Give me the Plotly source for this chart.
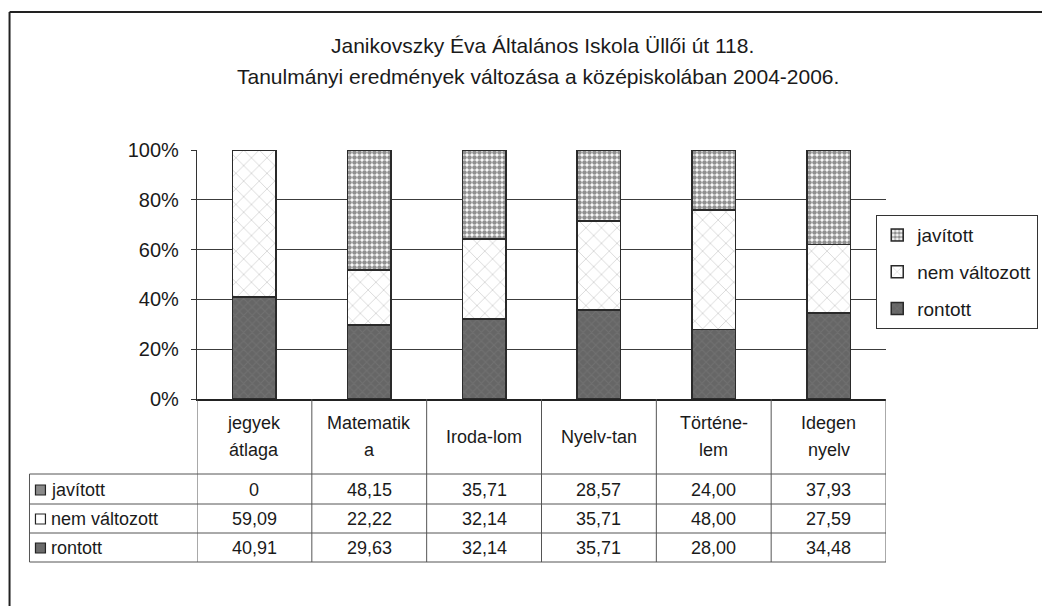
import plotly.graph_objects as go

# ---- data ----
categories = ["jegyek<br>átlaga", "Matematik<br>a", "Iroda-lom", "Nyelv-tan", "Történe-<br>lem", "Idegen<br>nyelv"]
javitott = [0, 48.15, 35.71, 28.57, 24.00, 37.93]
nem_valtozott = [59.09, 22.22, 32.14, 35.71, 48.00, 27.59]
rontott = [40.91, 29.63, 32.14, 35.71, 28.00, 34.48]
y_ticks = [0, 20, 40, 60, 80, 100]

FONT = "Liberation Sans, Arial, sans-serif"
OFF = 8  # page body margin
W, H = 1050 - OFF, 609 - OFF
L, R, T, B = 197, 888, 150, 399  # plot area in window pixels


def px(X):
    return (X - L) / (R - L)


def py(Y):
    return (B - Y) / (B - T)


fig = go.Figure()

edge = dict(color="#2a2a2a", width=1.5)
traces = [
    ("rontott", rontott, 3, dict(color="#6e6e6e", line=edge,
                                 pattern=dict(shape="x", fgcolor="#7c7c7c", bgcolor="#666666", size=6, solidity=0.3))),
    ("nem változott", nem_valtozott, 2, dict(color="white", line=edge,
                                             pattern=dict(shape="x", fgcolor="#959595", bgcolor="white", size=11, solidity=0.12))),
    ("javított", javitott, 1, dict(color="#555", line=edge,
                                   pattern=dict(shape=".", fgcolor="#222222", bgcolor="white", size=5, solidity=0.65))),
]
x_idx = list(range(len(categories)))
for name, vals, rank, marker in traces:
    fig.add_trace(go.Bar(
        x=x_idx, y=vals, name=name, marker=marker, width=0.38,
        legendgroup=name, legendrank=rank,
    ))

fig.update_layout(
    barmode="stack",
    width=W, height=H,
    margin=dict(l=L - OFF, r=1050 - R, t=T - OFF, b=609 - B, pad=0),
    paper_bgcolor="white", plot_bgcolor="white",
    font=dict(family=FONT, size=18, color="#1a1a1a"),
    showlegend=True,
    legend=dict(
        x=px(878), y=py(215), xanchor="left", yanchor="top",
        bordercolor="#333", borderwidth=1.2, bgcolor="white",
        font=dict(family=FONT, size=19, color="#1a1a1a"),
        traceorder="grouped", tracegroupgap=9,
        itemwidth=30,
    ),
    xaxis=dict(
        range=[-0.5, len(categories) - 0.5], showticklabels=False, ticks="",
        showgrid=False, zeroline=False, showline=True, linecolor="#222", linewidth=1.5,
    ),
    yaxis=dict(
        range=[0, 100], tickvals=y_ticks, ticktext=[f"{v}%" for v in y_ticks],
        showgrid=True, gridcolor="#3c3c3c", gridwidth=1,
        ticks="outside", ticklen=5, tickcolor="#333",
        showline=True, linecolor="#333", linewidth=1.2, zeroline=False,
        tickfont=dict(family=FONT, size=20, color="#1a1a1a"),
        ticklabelstandoff=8,
    ),
)


def note(text, x, y, xref="paper", size=18, xanchor="center"):
    fig.add_annotation(text=text, xref=xref, yref="paper", x=x, y=y, xanchor=xanchor,
                       yanchor="middle", showarrow=False, font=dict(size=size))


# title
note("Janikovszky Éva Általános Iskola Üllői út 118.", px(544), py(45), size=21)
note("Tanulmányi eredmények változása a középiskolában 2004-2006.", px(539), py(76), size=21)

# outer frame (top and left edges visible)
fig.add_shape(type="line", xref="paper", yref="paper", x0=px(9), x1=px(1060), y0=py(12), y1=py(12),
              line=dict(color="#222", width=2))
fig.add_shape(type="line", xref="paper", yref="paper", x0=px(9), x1=px(9), y0=py(12), y1=py(606),
              line=dict(color="#222", width=2))

# data table
hdr_top = 399
row_lines = [474, 504, 533, 562]
row_centers = [490, 519, 548]
tab_left = 29
gl = dict(color="#555", width=1)

for i in range(len(categories) + 1):
    fig.add_shape(type="line", xref="x", yref="paper", x0=i - 0.5, x1=i - 0.5,
                  y0=py(hdr_top), y1=py(row_lines[-1]), line=gl)
fig.add_shape(type="line", xref="paper", yref="paper", x0=px(tab_left), x1=px(tab_left),
              y0=py(row_lines[0]), y1=py(row_lines[-1]), line=gl)
for Y in row_lines:
    fig.add_shape(type="line", xref="paper", yref="paper", x0=px(tab_left), x1=px(R),
                  y0=py(Y), y1=py(Y), line=gl)

# header labels
for i, cat in enumerate(categories):
    parts = cat.split("<br>")
    ys = [437] if len(parts) == 1 else [423, 450]
    for part, Y in zip(parts, ys):
        note(part, i, py(Y), xref="x")

# row labels with swatches and values
swatch_fill = {"javított": "#8a8a8a", "nem változott": "white", "rontott": "#6a6a6a"}
table_rows = [("javított", javitott), ("nem változott", nem_valtozott), ("rontott", rontott)]
for (name, vals), Y in zip(table_rows, row_centers):
    fig.add_shape(type="rect", xref="paper", yref="paper",
                  x0=px(35), x1=px(45), y0=py(Y - 5), y1=py(Y + 5),
                  line=dict(color="#222", width=1.2), fillcolor=swatch_fill[name])
    note(name, px(49), py(Y), xanchor="left")
    for i, v in enumerate(vals):
        label = "0" if v == 0 else f"{v:.2f}".replace(".", ",")
        note(label, i, py(Y), xref="x")

fig.write_html("out.html")
